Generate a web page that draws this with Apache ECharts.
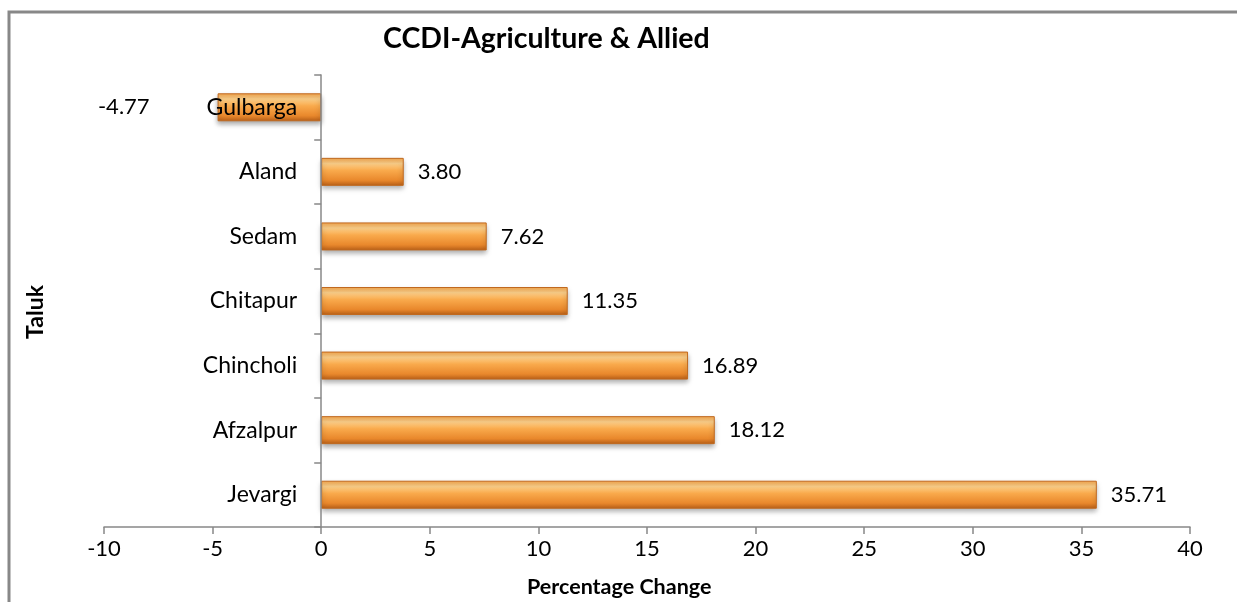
<!DOCTYPE html>
<html>
<head>
<meta charset="utf-8">
<script src="https://cdn.jsdelivr.net/npm/echarts@6/dist/echarts.min.js"></script>
<style>
  html, body { margin: 0; padding: 0; background: #fff; }
  #chart { width: 1237px; height: 602px; }
</style>
</head>
<body>
<div id="chart"></div>
<script>
// categories listed top to bottom as in the picture
const taluks = ['Gulbarga', 'Aland', 'Sedam', 'Chitapur', 'Chincholi', 'Afzalpur', 'Jevargi'];
const pctChange = [-4.77, 3.80, 7.62, 11.35, 16.89, 18.12, 35.71];
const xTicks = [-10, -5, 0, 5, 10, 15, 20, 25, 30, 35, 40];

const font = 'Lato, "Open Sans", sans-serif';
const axisGrey = '#888';

const gridLeft = 104, gridRight = 47;
const xMin = xTicks[0], xMax = xTicks[xTicks.length - 1];
// category axis sits on the zero line, labels included
const zeroShift = (0 - xMin) / (xMax - xMin) * (1237 - gridLeft - gridRight);

const barFill = new echarts.graphic.LinearGradient(0, 0, 0, 1, [
  { offset: 0, color: '#f6a64c' },
  { offset: 0.2, color: '#fdd08a' },
  { offset: 0.45, color: '#f9aa4c' },
  { offset: 0.8, color: '#e9882c' },
  { offset: 1, color: '#b85f18' }
]);

const chart = echarts.init(document.getElementById('chart'));

chart.setOption({
  animation: false,
  title: {
    text: 'CCDI-Agriculture & Allied',
    left: 378,
    top: 19,
    textStyle: { fontFamily: font, fontWeight: 'bold', fontSize: 28.5, color: '#000' }
  },
  grid: { left: gridLeft, right: gridRight, top: 75, bottom: 75, containLabel: false, outerBoundsMode: 'none' },
  xAxis: {
    type: 'value',
    min: xMin,
    max: xMax,
    interval: 5,
    splitLine: { show: false },
    axisLine: { show: true, lineStyle: { color: axisGrey, width: 1.5 } },
    axisTick: { show: true, length: 7, lineStyle: { color: axisGrey, width: 1.5 } },
    axisLabel: { color: '#000', fontFamily: font, fontSize: 22, margin: 11 }
  },
  yAxis: {
    type: 'category',
    inverse: true,
    data: taluks,
    z: 5,
    offset: -zeroShift,
    axisLine: { onZero: false, lineStyle: { color: axisGrey, width: 1.5 } },
    axisTick: { show: true, length: 7, lineStyle: { color: axisGrey, width: 1.5 } },
    axisLabel: { color: '#000', fontFamily: font, fontSize: 23, margin: 24 }
  },
  graphic: [
    {
      type: 'rect',
      shape: { x: 9, y: 12, width: 1400, height: 800 },
      style: { fill: 'none', stroke: axisGrey, lineWidth: 3 },
      silent: true
    },
    {
      type: 'text',
      x: 36,
      y: 312,
      rotation: Math.PI / 2,
      style: {
        text: 'Taluk', fontFamily: font, fontWeight: 'bold', fontSize: 23, fill: '#000',
        align: 'center', verticalAlign: 'middle'
      }
    },
    {
      type: 'text',
      left: 527,
      top: 576,
      style: { text: 'Percentage Change', fontFamily: font, fontWeight: 'bold', fontSize: 21.5, fill: '#000' }
    }
  ],
  series: [{
    type: 'bar',
    barWidth: 28,
    data: pctChange.map(v => ({
      value: v,
      label: v < 0 ? { position: 'left', distance: 68 } : undefined
    })),
    itemStyle: {
      color: barFill,
      borderColor: '#c0691f',
      borderWidth: 1,
      shadowColor: 'rgba(0,0,0,0.35)',
      shadowBlur: 5,
      shadowOffsetY: 3
    },
    label: {
      show: true,
      position: 'right',
      distance: 14,
      color: '#000',
      fontFamily: font,
      fontSize: 22,
      formatter: p => p.value.toFixed(2)
    }
  }]
});

window.addEventListener('resize', () => chart.resize());
</script>
</body>
</html>
